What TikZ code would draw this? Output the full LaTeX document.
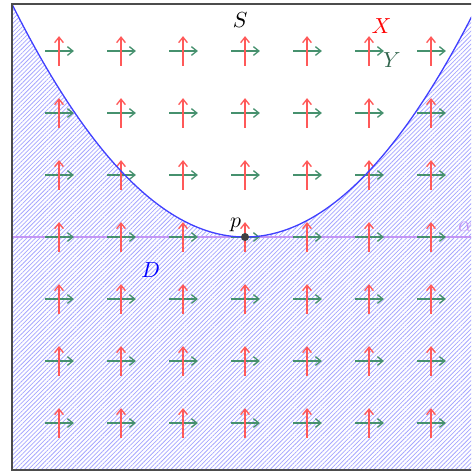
\documentclass[tikz,border=0pt]{standalone}
\usetikzlibrary{patterns.meta,arrows.meta}
\definecolor{ygreen}{RGB}{70,145,110}
\definecolor{alphaviolet}{RGB}{195,150,245}
\begin{document}
\begin{tikzpicture}[x=1cm,y=1cm,
  xarrow/.style={draw=red!65, line width=0.6pt, -{Straight Barb[length=2.5pt,width=4pt]}},
  yarrow/.style={draw=ygreen, line width=0.6pt, -{Straight Barb[length=2.5pt,width=4pt]}},
  lbl/.style={inner sep=0pt}]
\useasboundingbox (-3.952,-3.79) rectangle (3.645,3.823);
\clip (-3.952,-3.79) rectangle (3.645,3.823);
% region D
\fill[pattern={Lines[angle=45,distance=1.4pt,line width=0.35pt]}, pattern color=blue!35]
  (-3.76,3.76) -- plot[domain=-3.76:3.76, samples=120] (\x,{\x*\x/3.76}) -- (3.76,-3.76) -- (-3.76,-3.76) -- cycle;
% line alpha
\draw[alphaviolet, line width=0.7pt] (-3.76,0) -- (3.76,0);
% vector fields
\foreach \i in {-3,...,3}{
  \foreach \j in {-3,...,3}{
    \draw[yarrow] (\i-0.22,\j) -- (\i+0.24,\j);
    \draw[xarrow] (\i,\j-0.24) -- (\i,\j+0.24);
  }
}
% boundary S
\draw[blue!75, line width=0.6pt] plot[domain=-3.76:3.76, samples=120] (\x,{\x*\x/3.76});
% frame
\draw[black!70, line width=0.6pt] (-3.76,-3.76) rectangle (3.76,3.76);
% point p
\fill[black!75] (0,0) circle (0.065);
% labels
\node[lbl] (S) at (-0.08,3.5) {$S$};
\node[lbl, text=red] (X) at (2.2,3.4) {$X$};
\node[lbl, text=ygreen!70!black] (Y) at (2.37,2.85) {$Y$};
\node[lbl] (p) at (-0.15,0.19) {$p$};
\node[lbl, text=blue] (D) at (-1.52,-0.53) {$D$};
\node[lbl, text=alphaviolet] (al) at (3.55,0.16) {$\alpha$};
\end{tikzpicture}
\end{document}
